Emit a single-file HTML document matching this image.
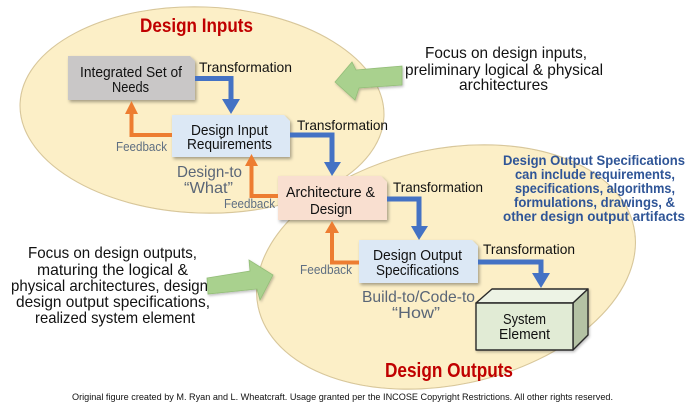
<!DOCTYPE html>
<html><head><meta charset="utf-8"><style>
html,body{margin:0;padding:0;background:#fff;}
svg{display:block;}
text{font-family:"Liberation Sans",sans-serif;}
</style></head><body>
<svg width="698" height="408" viewBox="0 0 698 408" xmlns="http://www.w3.org/2000/svg">
<defs>
<filter id="sh" x="-10%" y="-10%" width="130%" height="140%">
<feDropShadow dx="1.5" dy="2" stdDeviation="1.5" flood-color="#000" flood-opacity="0.35"/>
</filter>
<filter id="sh2" x="-10%" y="-10%" width="130%" height="130%">
<feDropShadow dx="1" dy="1.5" stdDeviation="1.2" flood-color="#000" flood-opacity="0.25"/>
</filter>
</defs>
<rect width="698" height="408" fill="#fff"/>
<!-- ellipses: strokes -->
<ellipse cx="202" cy="110" rx="182" ry="103" transform="rotate(2 202 110)" fill="#fcefc7" stroke="#d8c79b" stroke-width="1.2"/>
<ellipse cx="446" cy="267" rx="192" ry="118" transform="rotate(-12 446 267)" fill="#fcefc7" stroke="#d8c79b" stroke-width="1.2"/>
<!-- fills on top to hide inner boundaries -->
<ellipse cx="202" cy="110" rx="181.4" ry="102.4" transform="rotate(2 202 110)" fill="#fcefc7"/>
<ellipse cx="446" cy="267" rx="191.4" ry="117.4" transform="rotate(-12 446 267)" fill="#fcefc7"/>

<!-- titles -->
<text x="140" y="32" font-size="19" font-weight="bold" fill="#c00000" textLength="113" lengthAdjust="spacingAndGlyphs">Design Inputs</text>
<text x="385" y="377" font-size="20" font-weight="bold" fill="#c00000" textLength="128" lengthAdjust="spacingAndGlyphs">Design Outputs</text>

<!-- boxes -->
<path d="M68,56 H190 L195,61 V100 H68 Z" fill="#c9c7c7" filter="url(#sh)"/>
<path d="M172,115 H284 L290,121 V157 H172 Z" fill="#dce8f5" filter="url(#sh)"/>
<path d="M278,176 H381 L387,182 V220 H278 Z" fill="#f9dfd0" filter="url(#sh)"/>
<path d="M359,240 H472 L478,246 V283 H359 Z" fill="#dce8f5" filter="url(#sh)"/>

<!-- box labels -->
<g font-size="15" fill="#111">
<text x="80" y="77" textLength="102" lengthAdjust="spacingAndGlyphs">Integrated Set of</text>
<text x="112" y="92" textLength="37" lengthAdjust="spacingAndGlyphs">Needs</text>
<text x="191" y="135" textLength="77" lengthAdjust="spacingAndGlyphs">Design Input</text>
<text x="187" y="149" textLength="85" lengthAdjust="spacingAndGlyphs">Requirements</text>
<text x="286" y="197" textLength="89" lengthAdjust="spacingAndGlyphs">Architecture &amp;</text>
<text x="310" y="214" textLength="42" lengthAdjust="spacingAndGlyphs">Design</text>
<text x="373" y="260" textLength="89" lengthAdjust="spacingAndGlyphs">Design Output</text>
<text x="376" y="275" textLength="83" lengthAdjust="spacingAndGlyphs">Specifications</text>
</g>

<!-- blue transformation arrows -->
<g fill="none" stroke="#4472c4" stroke-width="5">
<path d="M195,78.5 H231 V100"/>
<path d="M290,135 H332 V163"/>
<path d="M387,199 H419 V227"/>
<path d="M478,262 H541 V274"/>
</g>
<g fill="#4472c4">
<polygon points="222,99 240,99 231,114"/>
<polygon points="324,162 341,162 332,176"/>
<polygon points="411,226 428,226 419,240"/>
<polygon points="532,273 550,273 541,288"/>
</g>

<!-- orange feedback arrows -->
<g fill="none" stroke="#ed7d31" stroke-width="4">
<path d="M172,135 H131.5 V112"/>
<path d="M278,196 H251.5 V164"/>
<path d="M359,262.5 H332 V231"/>
</g>
<g fill="#ed7d31">
<polygon points="125,114 138,114 131.5,101"/>
<polygon points="245,166 258,166 251.5,154"/>
<polygon points="325,233 339,233 332,221"/>
</g>

<!-- transformation labels -->
<g font-size="14" fill="#111">
<text x="199" y="72" textLength="93" lengthAdjust="spacingAndGlyphs">Transformation</text>
<text x="297" y="130" textLength="91" lengthAdjust="spacingAndGlyphs">Transformation</text>
<text x="393" y="192" textLength="90" lengthAdjust="spacingAndGlyphs">Transformation</text>
<text x="483" y="254" textLength="92" lengthAdjust="spacingAndGlyphs">Transformation</text>
</g>

<!-- feedback labels -->
<g font-size="13" fill="#5f6f82">
<text x="116" y="151" textLength="51" lengthAdjust="spacingAndGlyphs">Feedback</text>
<text x="224" y="208" textLength="51" lengthAdjust="spacingAndGlyphs">Feedback</text>
<text x="300" y="274" textLength="52" lengthAdjust="spacingAndGlyphs">Feedback</text>
</g>

<!-- design-to / build-to -->
<g font-size="16" fill="#5a6677">
<text x="177" y="177" textLength="65" lengthAdjust="spacingAndGlyphs">Design-to</text>
<text x="184" y="193" textLength="49" lengthAdjust="spacingAndGlyphs">“What”</text>
<text x="362" y="302" textLength="113" lengthAdjust="spacingAndGlyphs">Build-to/Code-to</text>
<text x="392" y="318" textLength="48" lengthAdjust="spacingAndGlyphs">“How”</text>
</g>

<!-- system element 3D box -->
<g stroke="#2a2a2a" stroke-width="1.4" stroke-linejoin="round" filter="url(#sh2)">
<polygon points="476,303 492,289 588,289 573,303" fill="#edf3e5"/>
<polygon points="573,303 588,289 588,335 573,350" fill="#b4c2a4"/>
<rect x="476" y="303" width="97" height="47" fill="#e1ebd5"/>
</g>
<g font-size="15" fill="#111">
<text x="503" y="324" textLength="43" lengthAdjust="spacingAndGlyphs">System</text>
<text x="499" y="339" textLength="51" lengthAdjust="spacingAndGlyphs">Element</text>
</g>

<!-- focus text top-right -->
<g font-size="16" fill="#111">
<text x="425" y="58" textLength="162" lengthAdjust="spacingAndGlyphs">Focus on design inputs,</text>
<text x="405" y="75" textLength="198" lengthAdjust="spacingAndGlyphs">preliminary logical &amp; physical</text>
<text x="459" y="90" textLength="89" lengthAdjust="spacingAndGlyphs">architectures</text>
</g>

<!-- focus text bottom-left -->
<g font-size="16" fill="#111">
<text x="28" y="258" textLength="169" lengthAdjust="spacingAndGlyphs">Focus on design outputs,</text>
<text x="37" y="275" textLength="151" lengthAdjust="spacingAndGlyphs">maturing the logical &amp;</text>
<text x="11" y="291" textLength="197" lengthAdjust="spacingAndGlyphs">physical architectures, design</text>
<text x="16" y="307" textLength="194" lengthAdjust="spacingAndGlyphs">design output specifications,</text>
<text x="35" y="323" textLength="160" lengthAdjust="spacingAndGlyphs">realized system element</text>
</g>

<!-- blue note -->
<g font-size="14" font-weight="bold" fill="#2f5597">
<text x="503" y="165" textLength="182" lengthAdjust="spacingAndGlyphs">Design Output Specifications</text>
<text x="515" y="179" textLength="160" lengthAdjust="spacingAndGlyphs">can include requirements,</text>
<text x="515" y="193" textLength="160" lengthAdjust="spacingAndGlyphs">specifications, algorithms,</text>
<text x="514" y="207" textLength="161" lengthAdjust="spacingAndGlyphs">formulations, drawings, &amp;</text>
<text x="503" y="221" textLength="182" lengthAdjust="spacingAndGlyphs">other design output artifacts</text>
</g>

<!-- green arrows -->
<g fill="#a9d18e" stroke="#93bd78" stroke-width="0.8" filter="url(#sh2)">
<polygon points="335,82 352,62 356,70 402,66 402,85 359,88 355,100"/>
<polygon points="207,278 250,271 249,260 273,275 260,300 257,289 208,294"/>
</g>

<!-- footer -->
<text x="72" y="400" font-size="9.5" fill="#111" textLength="541" lengthAdjust="spacingAndGlyphs">Original figure created by M. Ryan and  L. Wheatcraft. Usage granted per the INCOSE Copyright Restrictions. All other rights reserved.</text>
</svg>
</body></html>
